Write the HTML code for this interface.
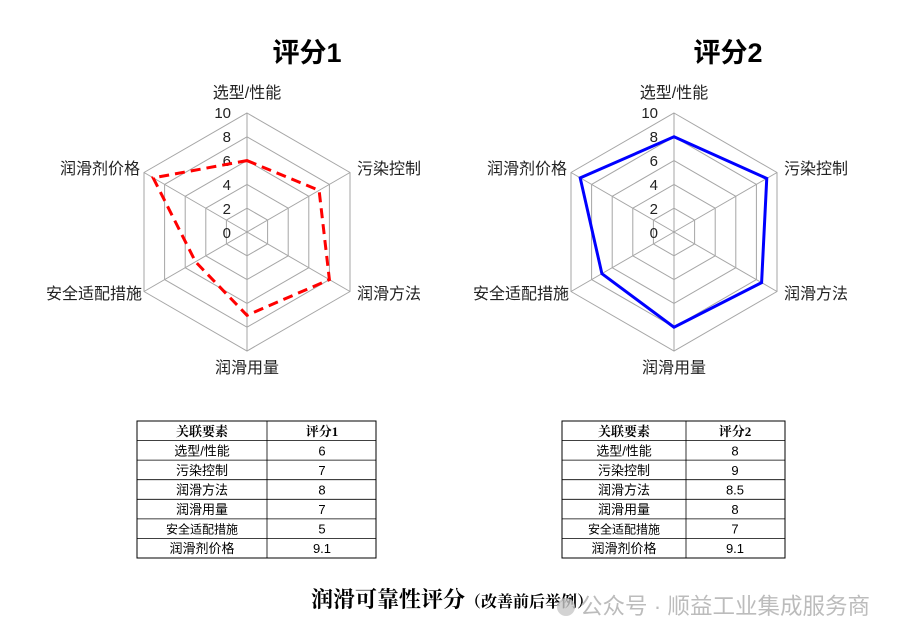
<!DOCTYPE html>
<html><head><meta charset="utf-8"><style>
body{margin:0;background:#fff;width:910px;height:641px;overflow:hidden}
svg{display:block}
text{font-family:"Liberation Sans","Noto Sans CJK SC",sans-serif}
.g{fill:none;stroke:#a6a6a6;stroke-width:1}
.lab{font-size:16px;fill:#222}
.tk{font-size:15px;fill:#222;text-anchor:end}
.tt{font-size:27px;font-weight:bold;fill:#000;text-anchor:middle}
.cell{font-size:13px;fill:#000;text-anchor:middle}
.hd{font-size:13px;font-weight:bold;fill:#000;text-anchor:middle;font-family:"Liberation Serif","Noto Serif CJK SC",serif}
</style></head><body>
<svg width="910" height="641" viewBox="0 0 910 641">
<defs>
<g id="grid">
<polygon class="g" points="0,-23.8 20.6,-11.9 20.6,11.9 0,23.8 -20.6,11.9 -20.6,-11.9"/>
<polygon class="g" points="0,-47.6 41.2,-23.8 41.2,23.8 0,47.6 -41.2,23.8 -41.2,-23.8"/>
<polygon class="g" points="0,-71.4 61.8,-35.7 61.8,35.7 0,71.4 -61.8,35.7 -61.8,-35.7"/>
<polygon class="g" points="0,-95.2 82.4,-47.6 82.4,47.6 0,95.2 -82.4,47.6 -82.4,-47.6"/>
<polygon class="g" points="0,-119 103,-59.5 103,59.5 0,119 -103,59.5 -103,-59.5"/>
<path class="g" d="M0,0L0,-119M0,0L103,-59.5M0,0L103,59.5M0,0L0,119M0,0L-103,59.5M0,0L-103,-59.5"/>
<text class="tk" x="-16" y="-114">10</text>
<text class="tk" x="-16" y="-90">8</text>
<text class="tk" x="-16" y="-66">6</text>
<text class="tk" x="-16" y="-42">4</text>
<text class="tk" x="-16" y="-18">2</text>
<text class="tk" x="-16" y="6">0</text>
<text class="lab" x="0" y="-134" text-anchor="middle">选型/性能</text>
<text class="lab" x="110" y="-58">污染控制</text>
<text class="lab" x="110" y="67">润滑方法</text>
<text class="lab" x="0" y="141" text-anchor="middle">润滑用量</text>
<text class="lab" x="-105" y="67" text-anchor="end">安全适配措施</text>
<text class="lab" x="-107" y="-58" text-anchor="end">润滑剂价格</text>
</g>
</defs>
<text class="tt" x="307" y="62">评分1</text>
<text class="tt" x="728" y="62">评分2</text>
<g transform="translate(247,232)">
<use href="#grid"/>
<polygon fill="none" stroke="#ff0000" stroke-width="3" stroke-dasharray="10,6" points="0,-71.4 72.1,-41.65 82.4,47.6 0,83.3 -51.5,29.75 -93.8,-54.1"/>
</g>
<g transform="translate(674,232)">
<use href="#grid"/>
<polygon fill="none" stroke="#0000ff" stroke-width="3" points="0,-95.2 92.75,-53.55 87.6,50.6 0,95.2 -72.1,41.65 -93.8,-54.1"/>
</g>
<g transform="translate(137,421)">
<rect x="0" y="0" width="239" height="137" fill="none" stroke="#000" stroke-width="1"/>
<path d="M130,0V137M0,19.6H239M0,39.1H239M0,58.7H239M0,78.3H239M0,97.9H239M0,117.4H239" stroke="#000" stroke-width="0.8" fill="none"/>
<text class="hd" x="65" y="15">关联要素</text><text class="hd" x="185" y="15">评分1</text>
<text class="cell" x="65" y="34.5">选型/性能</text><text class="cell" x="185" y="34.5">6</text>
<text class="cell" x="65" y="54">污染控制</text><text class="cell" x="185" y="54">7</text>
<text class="cell" x="65" y="73.5">润滑方法</text><text class="cell" x="185" y="73.5">8</text>
<text class="cell" x="65" y="93">润滑用量</text><text class="cell" x="185" y="93">7</text>
<text class="cell" x="65" y="112.5" style="font-size:12px">安全适配措施</text><text class="cell" x="185" y="112.5">5</text>
<text class="cell" x="65" y="132">润滑剂价格</text><text class="cell" x="185" y="132">9.1</text>
</g>
<g transform="translate(562,421)">
<rect x="0" y="0" width="223" height="137" fill="none" stroke="#000" stroke-width="1"/>
<path d="M124,0V137M0,19.6H223M0,39.1H223M0,58.7H223M0,78.3H223M0,97.9H223M0,117.4H223" stroke="#000" stroke-width="0.8" fill="none"/>
<text class="hd" x="62" y="15">关联要素</text><text class="hd" x="173" y="15">评分2</text>
<text class="cell" x="62" y="34.5">选型/性能</text><text class="cell" x="173" y="34.5">8</text>
<text class="cell" x="62" y="54">污染控制</text><text class="cell" x="173" y="54">9</text>
<text class="cell" x="62" y="73.5">润滑方法</text><text class="cell" x="173" y="73.5">8.5</text>
<text class="cell" x="62" y="93">润滑用量</text><text class="cell" x="173" y="93">8</text>
<text class="cell" x="62" y="112.5" style="font-size:12px">安全适配措施</text><text class="cell" x="173" y="112.5">7</text>
<text class="cell" x="62" y="132">润滑剂价格</text><text class="cell" x="173" y="132">9.1</text>
</g>
<text x="311" y="607" style="font-family:'Liberation Serif','Noto Serif CJK SC',serif;font-size:22px;font-weight:bold;fill:#000">润滑可靠性评分<tspan style="font-size:16px">（改善前后举例）</tspan></text>
<circle cx="566" cy="607" r="9" fill="#c8c8c8" opacity="0.8"/>
<text x="580" y="614" style="font-size:22.5px;fill:#b5b5b5;opacity:0.9">公众号 · 顺益工业集成服务商</text>
</svg>
</body></html>
